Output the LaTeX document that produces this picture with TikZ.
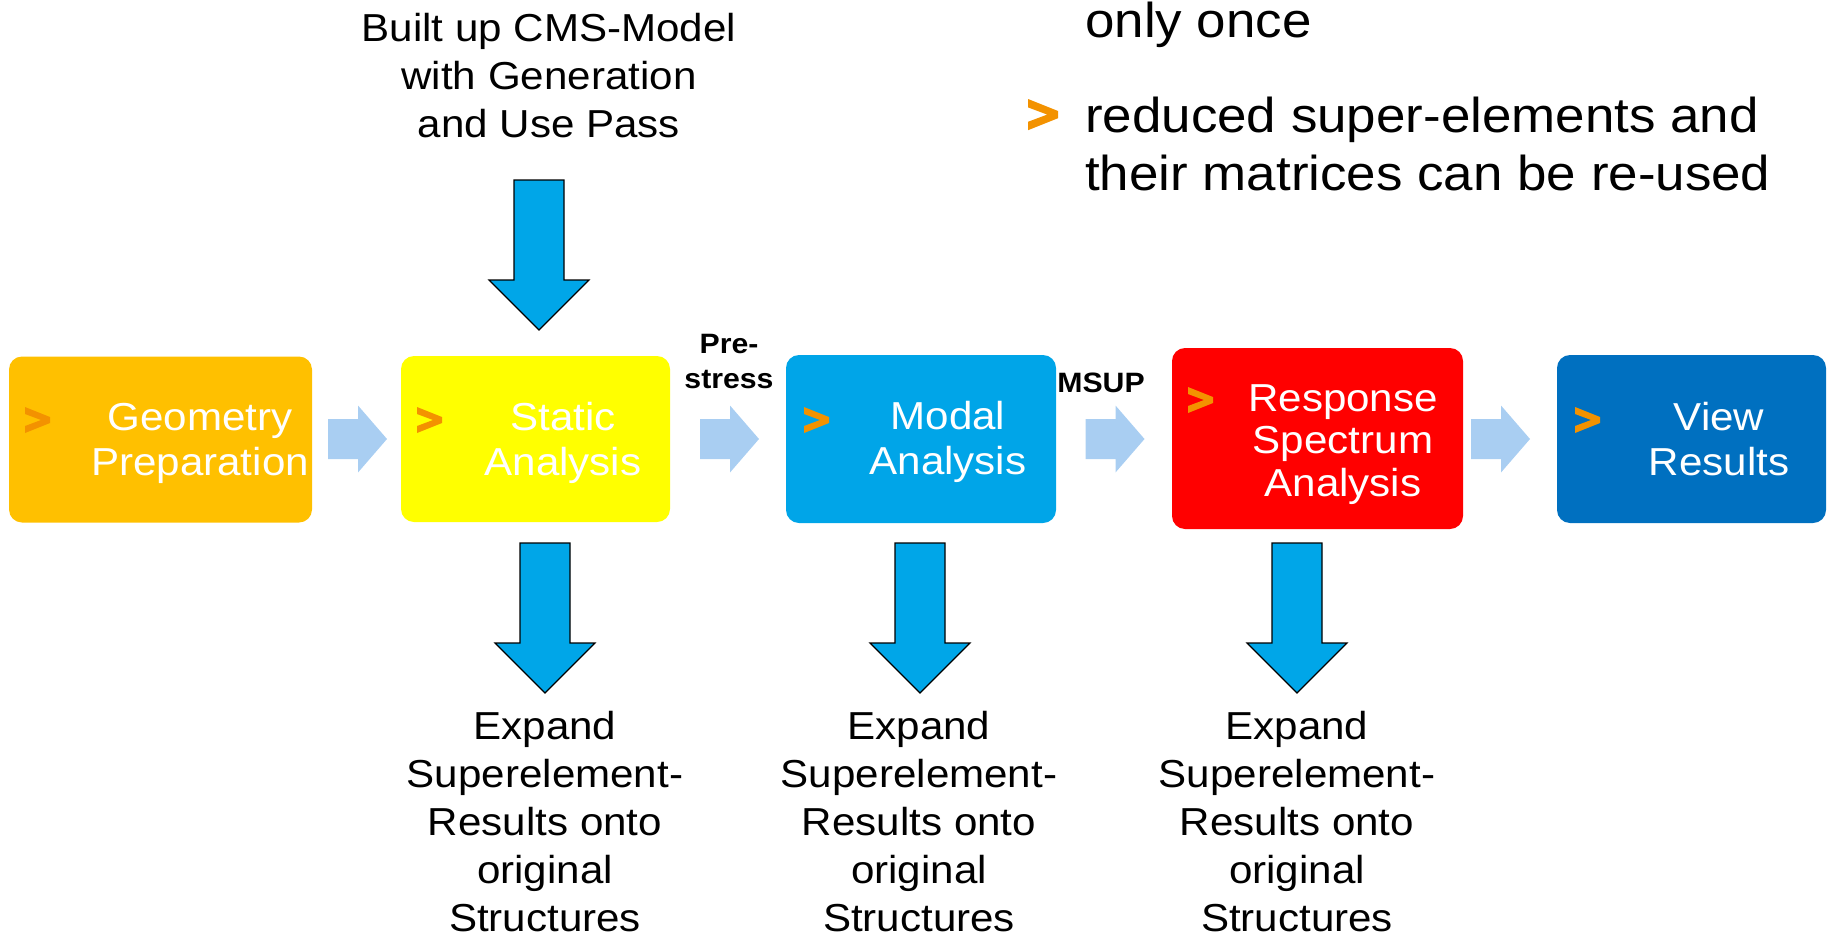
\documentclass[tikz,border=0pt]{standalone}
\usepackage{fontspec}
\setmainfont{Liberation Sans}[FakeStretch=1.08]
\usetikzlibrary{calc}
\definecolor{geoC}{HTML}{FFC000}
\definecolor{statC}{HTML}{FFFF00}
\definecolor{modalC}{HTML}{00A5E8}
\definecolor{respC}{HTML}{FF0000}
\definecolor{viewC}{HTML}{0070C0}
\definecolor{lightC}{HTML}{A9CEF2}
\definecolor{bigC}{HTML}{00A6E8}
\definecolor{bulletC}{HTML}{F39200}
\begin{document}
\begin{tikzpicture}[x=1pt,y=-1pt,
  stage/.style={draw=none, rounded corners=13pt, inner sep=0pt},
  boxtxt/.style={text=white, align=center, inner sep=0pt, anchor=base, font=\fontsize{39}{45}\selectfont},
  plaintxt/.style={text=black, align=center, inner sep=0pt, anchor=base, font=\fontsize{39}{48}\selectfont},
  boldlbl/.style={text=black, align=center, inner sep=0pt, anchor=base, font=\fontsize{28}{35}\selectfont\bfseries},
  chev/.pic={\fill[bulletC] (0,0) -- (25,10) -- (25,16) -- (0,26) -- (0,19) -- (16,13) -- (0,7) -- cycle;},
  flowarr/.pic={\fill[lightC] (-29.5,-20) -- (0.5,-20) -- (0.5,-33.5) -- (29.5,0) -- (0.5,33.5) -- (0.5,20) -- (-29.5,20) -- cycle;},
  downarr/.pic={\filldraw[fill=bigC, draw=black, line width=1.2pt, line join=miter] (-25,0) -- (25,0) -- (25,100) -- (50,100) -- (0,150) -- (-50,100) -- (-25,100) -- cycle;}
]
\useasboundingbox (0,0) rectangle (1829,937);

% stage boxes
\node[stage, fill=geoC, minimum width=303pt, minimum height=166pt] (geo) at (160.5,439.5) {};
\node[stage, fill=statC, minimum width=269pt, minimum height=166pt] (stat) at (535.5,439) {};
\node[stage, fill=modalC, minimum width=270pt, minimum height=168pt] (modal) at (921,439) {};
\node[stage, fill=respC, minimum width=291pt, minimum height=181pt] (resp) at (1317.5,438.5) {};
\node[stage, fill=viewC, minimum width=269pt, minimum height=168pt] (view) at (1691.5,439) {};

% box texts (anchor base = last line)
\node[boxtxt] (geoT) at (200,475) {Geometry\\Preparation};
\node[boxtxt] (statT) at (563,475) {Static\\Analysis};
\node[boxtxt] (modalT) at (948,474) {Modal\\Analysis};
\node[boxtxt, font=\fontsize{39}{42.5}\selectfont] (respT) at (1343,496) {Response\\Spectrum\\Analysis};
\node[boxtxt] (viewT) at (1719,475) {View\\Results};

% bullets
\pic at (25,407) {chev};
\pic at (417,407) {chev};
\pic at (804,407) {chev};
\pic at (1188,387) {chev};
\pic at (1575,407) {chev};

% flow arrows between boxes
\pic at (357.5,439) {flowarr};
\pic at (729.5,439) {flowarr};
\pic at (1115,439) {flowarr};
\pic at (1500.5,439) {flowarr};

% labels on flow
\node[boldlbl] (pre) at (729,388) {Pre-\\stress};
\node[boldlbl] (msup) at (1101,392) {MSUP};

% top text and arrow
\node[plaintxt] (cms) at (549,137) {Built up CMS-Model\\with Generation\\and Use Pass};
\pic at (539,180) {downarr};

% bottom arrows and texts
\pic at (545,543) {downarr};
\pic at (920,543) {downarr};
\pic at (1297,543) {downarr};
\node[plaintxt] (exp1) at (545,931) {Expand\\Superelement-\\Results onto\\original\\Structures};
\node[plaintxt] (exp2) at (919,931) {Expand\\Superelement-\\Results onto\\original\\Structures};
\node[plaintxt] (exp3) at (1297,931) {Expand\\Superelement-\\Results onto\\original\\Structures};

% right notes
\node[inner sep=0pt, anchor=base west, font=\fontsize{49}{58}\selectfont] (once) at (1085,37) {only once};
\pic[scale=1.2] at (1028,99) {chev};
\node[inner sep=0pt, anchor=base west, align=left, font=\fontsize{49}{58}\selectfont] (reuse) at (1085,190) {reduced super-elements and\\their matrices can be re-used};
\end{tikzpicture}
\end{document}
